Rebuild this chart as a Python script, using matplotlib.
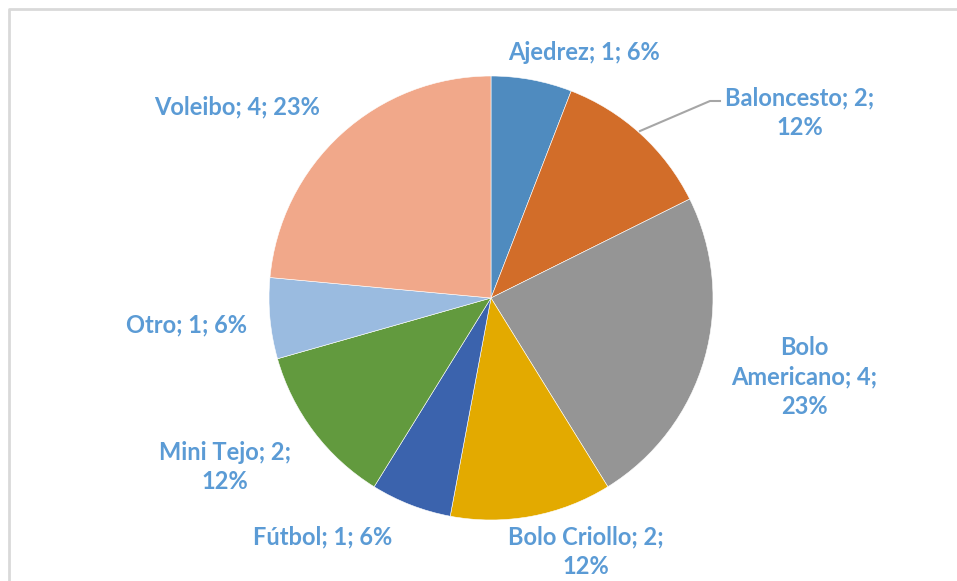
import matplotlib.pyplot as plt
import numpy as np

# sports and number of people per sport
categories = ['Ajedrez', 'Baloncesto', 'Bolo Americano', 'Bolo Criollo',
              'Fútbol', 'Mini Tejo', 'Otro', 'Voleibo']
values = [1, 2, 4, 2, 1, 2, 1, 4]
percent_labels = ['6%', '12%', '23%', '12%', '6%', '12%', '6%', '23%']

colors = ['#4F8BBF', '#D26D29', '#959595', '#E3AA00',
          '#3B63AD', '#629A3E', '#9ABBE0', '#F1A88A']

W, H = 957, 581
fig = plt.figure(figsize=(W / 100, H / 100), dpi=100)
ax = fig.add_axes([0, 0, 1, 1])

# light grey chart frame (left and top only visible)
ax.plot([9, 9, W], [0, H - 9, H - 9], color='#D9D9D9', lw=2, solid_capstyle='butt')

cx, cy, r = 491, H - 298, 222
ax.pie(values, colors=colors, startangle=90, counterclock=False,
       center=(cx, cy), radius=r, frame=True,
       wedgeprops=dict(edgecolor='white', linewidth=0.4))
ax.set_xlim(0, W)
ax.set_ylim(0, H)
ax.set_aspect('equal')
ax.axis('off')

# label text "name; count; percent", with line breaks as in the original
label_texts = [
    f'{categories[0]}; {values[0]}; {percent_labels[0]}',
    f'{categories[1]}; {values[1]};\n{percent_labels[1]}',
    f'Bolo\nAmericano; {values[2]};\n{percent_labels[2]}',
    f'{categories[3]}; {values[3]};\n{percent_labels[3]}',
    f'{categories[4]}; {values[4]}; {percent_labels[4]}',
    f'{categories[5]}; {values[5]};\n{percent_labels[5]}',
    f'{categories[6]}; {values[6]}; {percent_labels[6]}',
    f'{categories[7]}; {values[7]}; {percent_labels[7]}',
]
# label centres in pixel coordinates (from top-left)
label_pos = [(584, 52), (800, 113), (804, 377), (586, 552),
             (323, 537), (225, 467), (187, 325), (237, 107)]

for txt, (px, py) in zip(label_texts, label_pos):
    ax.text(px, H - py, txt, ha='center', va='center', color='#5B9BD5',
            fontsize=17, fontweight='bold', family=['Lato', 'DejaVu Sans'],
            linespacing=1.34)

# leader line for Baloncesto
ax.plot([640, 710, 720], [H - 131, H - 101, H - 101], color='#A6A6A6', lw=1.5)

fig.savefig('out.png', dpi=100)
